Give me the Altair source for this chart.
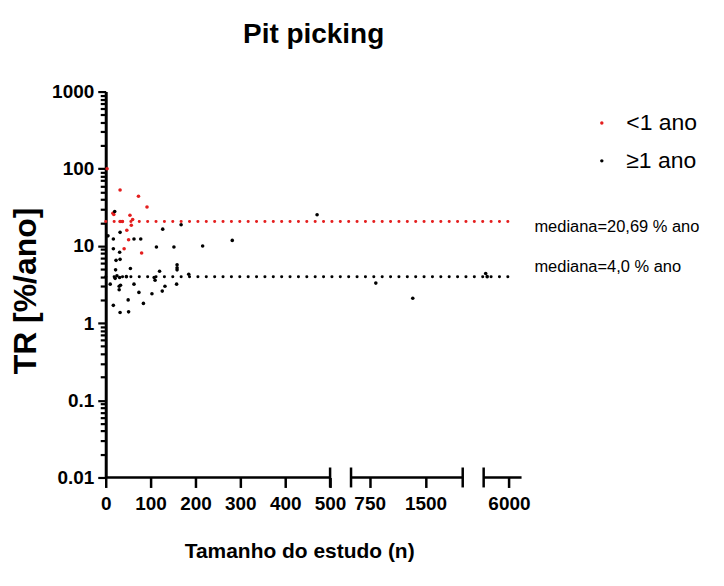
import altair as alt
import pandas as pd

# ---------------- data ----------------
red_n = [3, 32, 73, 92, 16, 18, 54, 60, 57, 32, 37, 47, 51, 41, 80]
red_tr = [100, 53, 44, 32, 26.5, 25.5, 25, 22, 18.5, 20.7, 20.7, 16, 12, 9.2, 8.1]

black_n = [20, 5, 17, 32, 63, 78, 127, 168, 113, 152,
           216, 282, 471, 17, 31, 23, 32, 22, 55, 159,
           159, 159, 120, 25, 31, 21, 46, 108, 110, 185,
           10, 30, 33, 30, 63, 132, 126, 158, 74, 103,
           50, 17, 84, 32, 51, 833, 1329, 5080, 5140]
black_tr = [27.9, 13.5, 12.3, 15, 12.3, 12.3, 16.5, 18.8, 9.7, 9.7,
            10, 11.8, 25.3, 9.2, 8.3, 6.5, 6.7, 4.9, 5.1, 5.7,
            5.2, 4.9, 4.7, 4.1, 3.9, 3.8, 4.0, 3.9, 3.6, 4.3,
            3.2, 3.0, 3.1, 2.7, 3.2, 3.0, 2.6, 3.2, 2.5, 2.4,
            2.0, 1.7, 1.8, 1.37, 1.4, 3.3, 2.1, 4.4, 4.0]

groups = ["<1 ano", "\u22651 ano"]
medians = [20.69, 4.0]
median_labels = ["mediana=20,69 % ano", "mediana=4,0 % ano"]
median_n_start = [0, 0]
median_n_end = [6180, 6180]

x_ticks = [0, 100, 200, 300, 400, 500, 750, 1500, 6000]
y_ticks = [0.01, 0.1, 1, 10, 100, 1000]
y_minor = [k * 10.0 ** e for e in range(-2, 3) for k in range(2, 10)]

# broken x axis: (n_lo, n_hi, px_lo, px_hi)
segments = [(0, 500, 0, 225), (500, 2000, 246, 358), (5000, 6500, 379, 417)]
W, H = 417, 387

RED = "#e41e1e"
FN = "Liberation Sans"


def pos_expr(f, end=True):
    op = "<=" if end else "<"
    expr = None
    for lo, hi, a, b in reversed(segments):
        piece = f"({a} + ({f} - {lo}) * {b - a} / {hi - lo})"
        expr = piece if expr is None else f"(({f} {op} {hi}) ? {piece} : {expr})"
    return expr


def pos_py(v):
    for lo, hi, a, b in segments:
        if v <= hi:
            return a + (v - lo) * (b - a) / (hi - lo)
    lo, hi, a, b = segments[-1]
    return a + (v - lo) * (b - a) / (hi - lo)


def inv_expr(f):
    expr = None
    for lo, hi, a, b in reversed(segments):
        piece = f"({lo} + ({f} - {a}) * {hi - lo} / {b - a})"
        expr = piece if expr is None else f"(({f} <= {b + 0.5}) ? {piece} : {expr})"
    return f"format({expr}, '.0f')"


pts = pd.DataFrame({
    "n": red_n + black_n,
    "tr": red_tr + black_tr,
    "group": [groups[0]] * len(red_n) + [groups[1]] * len(black_n),
})
med = pd.DataFrame({"group": groups, "median": medians, "label": median_labels,
                    "n0": median_n_start, "n1": median_n_end})
segs = pd.DataFrame({"lo": [s[0] for s in segments], "hi": [s[1] for s in segments]})
caps = pd.DataFrame({
    "v": [s[0] for s in segments[1:]] + [s[1] for s in segments[:-1]],
    "kind": ["start"] * (len(segments) - 1) + ["end"] * (len(segments) - 1),
})

xscale = alt.Scale(domain=[0, W], nice=False, zero=False)
yscale = alt.Scale(type="log", domain=[0.01, 1000], nice=False)
cscale = alt.Scale(domain=groups, range=[RED, "black"])

IS_MAJOR = "abs(log(datum.value) / LN10 - round(log(datum.value) / LN10)) < 0.001"

x_axis = alt.Axis(values=[pos_py(v) for v in x_ticks], labelExpr=inv_expr("datum.value"),
                  domain=False, grid=False, tickSize=10, tickWidth=2.5, tickColor="black",
                  labelFont=FN, labelFontSize=19, labelFontWeight="bold", labelColor="black",
                  labelPadding=7, labelFlush=False, labelOverlap=False,
                  title="Tamanho do estudo (n)", titleFont=FN, titleFontSize=21,
                  titleFontWeight="bold", titleColor="black", titleY=80, titleX=194,
                  titleAlign="center", titleBaseline="alphabetic")
y_axis = alt.Axis(values=sorted(y_ticks + y_minor),
                  labelExpr=f"{IS_MAJOR} ? format(datum.value, '~g') : ''",
                  grid=False, domainWidth=3, domainColor="black",
                  tickSize={"condition": {"test": IS_MAJOR, "value": 8}, "value": 5.5},
                  tickWidth=2.2, tickColor="black",
                  labelFont=FN, labelFontSize=19, labelFontWeight="bold", labelColor="black",
                  labelPadding=4, labelFlush=False, labelOverlap=False,
                  title="TR [%/ano]", titleFont=FN, titleFontSize=32, titleFontWeight="bold",
                  titleColor="black", titleX=-80, titleY=H / 2 + 6, titleAngle=270,
                  titleBaseline="middle")


def median_rule(i, color):
    return alt.Chart(med).transform_filter(alt.datum.group == groups[i]).transform_calculate(
        p0=pos_expr("datum.n0", end=False), p1=pos_expr("datum.n1")
    ).mark_rule(strokeWidth=3, strokeDash=[0.1, 8.3], strokeCap="round", color=color).encode(
        x=alt.X("p0:Q", scale=xscale, axis=x_axis),
        x2="p1:Q",
        y=alt.Y("median:Q", scale=yscale, axis=y_axis),
    )


def median_text(i, dy):
    return alt.Chart(med).transform_filter(alt.datum.group == groups[i]).transform_calculate(
        p1=pos_expr("datum.n1")
    ).mark_text(align="left", baseline="middle", dx=21, dy=dy, font=FN, fontSize=16.5,
                color="black").encode(
        x=alt.X("p1:Q", scale=xscale, axis=x_axis),
        y=alt.Y("median:Q", scale=yscale, axis=y_axis),
        text="label:N",
    )


seg_lines = alt.Chart(segs).transform_calculate(
    a=pos_expr("datum.lo", end=False), b=pos_expr("datum.hi")
).mark_rule(strokeWidth=2.5, color="black").encode(
    x=alt.X("a:Q", scale=xscale, axis=x_axis), x2="b:Q", y=alt.value(H)
)
cap_lines = alt.Chart(caps).transform_calculate(
    p="datum.kind == 'end' ? " + pos_expr("datum.v") + " : " + pos_expr("datum.v", end=False)
).mark_rule(strokeWidth=2.5, color="black").encode(
    x=alt.X("p:Q", scale=xscale, axis=x_axis), y=alt.value(H - 10), y2=alt.value(H + 10)
)

points = alt.Chart(pts).transform_calculate(p=pos_expr("datum.n")).mark_circle(
    size=13, opacity=1
).encode(
    x=alt.X("p:Q", scale=xscale, axis=x_axis),
    y=alt.Y("tr:Q", scale=yscale, axis=y_axis),
    color=alt.Color("group:N", scale=cscale, legend=alt.Legend(
        title=None, orient="none", legendX=486, legendY=20, labelFont=FN, labelFontSize=23,
        labelColor="black", symbolSize=12, symbolType="circle", rowPadding=14, labelOffset=13)),
)

chart = alt.layer(
    points, median_rule(0, RED), median_rule(1, "black"), seg_lines, cap_lines,
    median_text(0, 5), median_text(1, -10)
).properties(
    width=W, height=H,
    background="white",
    title=alt.TitleParams("Pit picking", font=FN, fontSize=28, fontWeight="bold",
                          anchor="middle", offset=34, color="black"),
    autosize=alt.AutoSizeParams(type="none"),
    padding={"left": 98, "top": 83, "right": 195, "bottom": 100},
).configure_view(stroke=None)

chart.save("out.html", embed_options={"renderer": "svg", "actions": False})
